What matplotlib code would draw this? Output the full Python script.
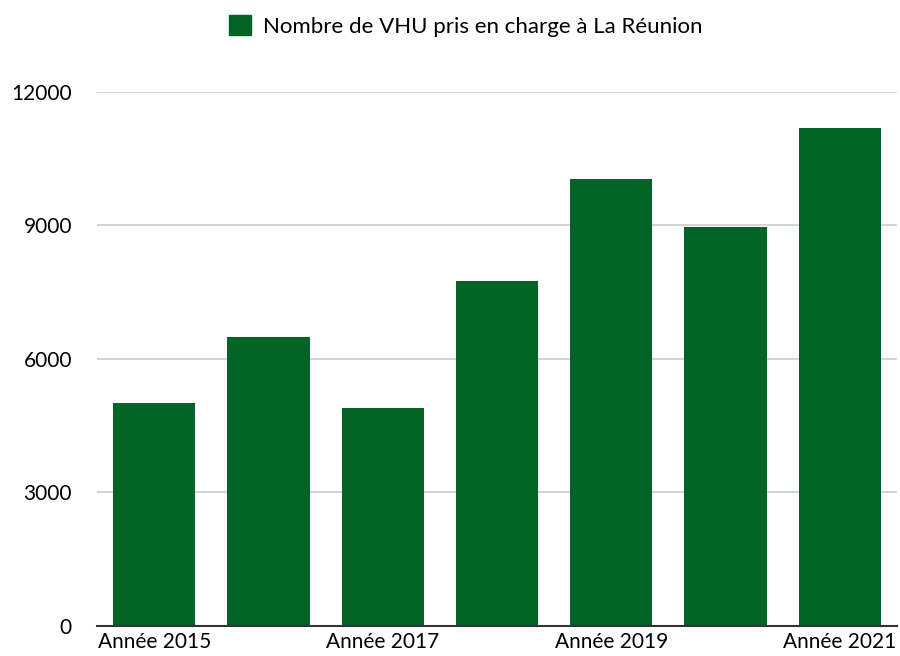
import matplotlib
matplotlib.use("Agg")
import matplotlib.pyplot as plt
from matplotlib.patches import Patch

categories = ["Année 2015", "Année 2016", "Année 2017", "Année 2018", "Année 2019", "Année 2020", "Année 2021"]
values = [5000, 6500, 4900, 7750, 10040, 8970, 11190]
series_name = "Nombre de VHU pris en charge à La Réunion"
y_ticks = [0, 3000, 6000, 9000, 12000]

plt.rcParams['font.family'] = ['Lato', 'DejaVu Sans']
color = "#016426"

fig = plt.figure(figsize=(9, 6.56), dpi=100)
ax = fig.add_axes([97/900, 1-625.5/656, 800/900, (625.5-92)/656])

x = list(range(len(categories)))
ax.bar(x, values, width=0.72, color=color, zorder=3)
ax.set_xlim(-0.5, len(categories)-0.5)
ax.set_ylim(0, 12000)
ax.set_yticks(y_ticks)
ax.set_yticklabels([str(t) for t in y_ticks], fontsize=15, color="#000000")
ax.set_xticks(x)
ax.set_xticklabels([c if i % 2 == 0 else "" for i, c in enumerate(categories)], fontsize=15, color="#000000")
ax.tick_params(axis='both', length=0)
ax.tick_params(axis='y', pad=18)
ax.tick_params(axis='x', pad=5)
for s in ["top", "right", "left"]:
    ax.spines[s].set_visible(False)
ax.spines["bottom"].set_color("#333333")
ax.spines["bottom"].set_linewidth(1.5)
ax.spines["bottom"].set_zorder(4)
ax.yaxis.grid(True, color="#cccccc", linewidth=1.2, zorder=0)
ax.set_axisbelow(True)

handle = Patch(facecolor=color, edgecolor=color)
fig.legend([handle], [series_name], loc="center", bbox_to_anchor=(466/900, 1-26/656),
           frameon=False, fontsize=16, handlelength=1.0, handleheight=1.0, handletextpad=0.55)

fig.savefig("out.png", dpi=100)
